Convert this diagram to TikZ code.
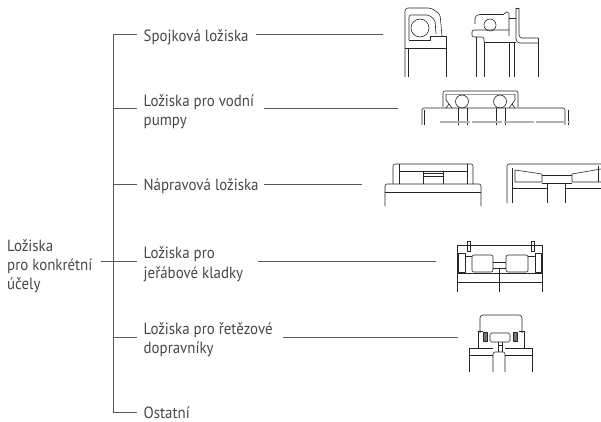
\documentclass[tikz,border=0pt]{standalone}
\usepackage{fontspec}
\setmainfont{PT Sans}[FakeStretch=0.92]
\begin{document}
\begin{tikzpicture}[x=1pt,y=-1pt,
  lbl/.style={anchor=base west,inner sep=0pt,text=black!72,font=\fontsize{16.2}{19}\selectfont},
  tree/.style={draw=black!65,line width=0.8pt},
  brg/.style={draw=black!85,line width=0.6pt,line join=round}]
\useasboundingbox (0,0) rectangle (601,422);
% ---------- labels
\node[lbl] (spoj) at (143.5,41.5) {Spojková ložiska};
\node[lbl] (vod1) at (143.5,106.5) {Ložiska pro vodní};
\node[lbl] (vod2) at (143.5,126) {pumpy};
\node[lbl] (nap)  at (143.5,190.5) {Nápravová ložiska};
\node[lbl] (jer1) at (143.5,258.3) {Ložiska pro};
\node[lbl] (jer2) at (143.5,278.3) {jeřábové kladky};
\node[lbl] (ret1) at (143.5,334) {Ložiska pro řetězové};
\node[lbl] (ret2) at (143.5,353) {dopravníky};
\node[lbl] (ost)  at (143.5,418.5) {Ostatní};
\node[lbl] (r1) at (7,251.5) {Ložiska};
\node[lbl] (r2) at (7,270.5) {pro konkrétní};
\node[lbl] (r3) at (7,289.5) {účely};
% ---------- tree
\coordinate (s1) at (113,34);
\coordinate (s2) at (113,108.7);
\coordinate (s3) at (113,184.8);
\coordinate (s4) at (113,261.7);
\coordinate (s5) at (113,337.3);
\coordinate (s6) at (113,412.5);
\coordinate (e1) at (383,34);
\coordinate (e2) at (398,108.7);
\coordinate (e3) at (362,184.8);
\coordinate (e4) at (436,261.7);
\coordinate (e5) at (458,337.3);
\draw[tree] (s1) -- (s6);
\draw[tree] (s1) -- ([xshift=-6.5pt]spoj.west |- s1);
\draw[tree] (s2) -- ([xshift=-6.5pt]vod1.west |- s2);
\draw[tree] (s3) -- ([xshift=-6.5pt]nap.west |- s3);
\draw[tree] (s4) -- ([xshift=-6.5pt]jer1.west |- s4);
\draw[tree] (s5) -- ([xshift=-6.5pt]ret1.west |- s5);
\draw[tree] (s6) -- ([xshift=-6.5pt]ost.west |- s6);
\draw[tree] ([xshift=8pt]r2.east |- s4) -- (s4);
\draw[tree] ([xshift=7pt]spoj.east |- e1) -- (e1);
\draw[tree] ([xshift=10pt]vod1.east |- e2) -- (e2);
\draw[tree] ([xshift=5pt]nap.east |- e3) -- (e3);
\draw[tree] ([xshift=15pt]jer2.east |- e4) -- (e4);
\draw[tree] ([xshift=10pt]ret1.east |- e5) -- (e5);
% ---------- bearing A (clutch, left)
\draw[brg,rounded corners=3pt] (405,77) -- (405,8) -- (431,8) -- (440,14) -- (442,36);
\draw[brg,rounded corners=2pt] (409,40) -- (409,15) -- (429,15) -- (435,20) -- (436,34);
\draw[brg] (420,28) circle[radius=9pt];
\draw[brg] (409,40) -- (430,40) -- (430,36) -- (446,36) -- (446,77);
\draw[brg] (405,48) -- (446,48);
\draw[brg] (408,48) -- (408,77);
% ---------- bearing B (clutch, right)
\draw[brg] (516,8) -- (519,8);
\draw[brg,rounded corners=4pt] (516,8) -- (516,43) -- (538,43);
\draw[brg,rounded corners=3pt] (519,8) -- (519,38) -- (538,38);
\draw[brg] (538,38) -- (538,77);
\draw[brg,rounded corners=1.5pt] (475,24) -- (475,17) -- (478,14.5) -- (505,14.5) -- (505,12) -- (509,12) -- (509,36);
\draw[brg] (509,18) -- (516,18);
\draw[brg] (490,25) circle[radius=6pt];
\draw[brg,rounded corners=2pt] (484,42) -- (484,37) -- (472,37) -- (472,30) -- (509,30);
\draw[brg] (484,42) -- (516,42);
\draw[brg] (476,37) -- (476,77);
\foreach \x in {484,509,514} \draw[brg] (\x,42) -- (\x,77);
% ---------- bearing C (water pump)
\draw[brg,rounded corners=2pt] (443,107) -- (443,91) -- (518,91) -- (518,107);
\draw[brg,draw=black!40] (446,94) -- (515,94);
\draw[brg] (462,101.5) circle[radius=6.5pt];
\draw[brg] (500,101.5) circle[radius=6.5pt];
\draw[brg] (446,94) -- (446,100) -- (449,104) -- (446,108);
\draw[brg] (449,104) -- (452,108);
\draw[brg] (515,94) -- (515,100) -- (512,104) -- (515,108);
\draw[brg] (512,104) -- (509,108);
\draw[brg,rounded corners=2pt] (422,125) -- (422,108) -- (565,108) -- (565,125);
\draw[brg] (424,110) -- (424,125);
\draw[brg] (568,110) -- (568,125);
\foreach \x in {458,467,496,505} \draw[brg] (\x,108) -- (\x,125);
\draw[black!30,line width=1.2pt,dash pattern=on 30pt off 2pt] (440,122) -- (570,122);
% ---------- bearing D (axle, left)
\draw[brg,rounded corners=2pt] (393,184) -- (393,164) -- (473,164) -- (473,184);
\draw[brg] (399,164) -- (399,184);
\draw[brg] (467,164) -- (467,184);
\draw[brg] (399,171) -- (467,171);
\draw[brg] (423,171) -- (423,184);
\draw[brg] (443,171) -- (443,184);
\draw[brg] (423,173.5) -- (443,173.5);
\draw[brg] (423,176) -- (443,176);
\draw[brg,rounded corners=2pt] (385,206) -- (385,184) -- (481,184) -- (481,206);
\draw[brg] (385,192) -- (481,192);
% ---------- bearing E (axle, right)
\draw[brg,rounded corners=2pt] (507,203) -- (507,164) -- (601,164);
\draw[brg] (512,168) -- (512,203);
\draw[brg] (515,170) -- (542,174) -- (542,182) -- (515,182) -- cycle;
\draw[brg] (601,169) -- (572,174) -- (572,182) -- (601,182);
\draw[brg] (598,166) -- (598,182);
\draw[brg] (542,175) -- (572,175);
\draw[brg] (542,183) -- (572,183);
\draw[brg] (547,183) -- (547,203);
\draw[brg] (565,183) -- (565,203);
\draw[brg] (512,188) -- (547,188);
\draw[brg] (565,188) -- (601,188);
% ---------- bearing F (crane pulley)
\draw[brg] (457,292) -- (457,245) -- (542,245) -- (542,292);
\draw[brg] (467.5,241) rectangle (470.5,251);
\draw[brg] (531.5,241) rectangle (534.5,251);
\draw[brg] (458,253) rectangle (465,272);
\draw[brg] (535,253) rectangle (541,272);
\draw[brg] (465,256) -- (472,256);
\draw[brg] (528,256) -- (535,256);
\draw[brg,rounded corners=2pt] (472,255) rectangle (493,272);
\draw[brg,rounded corners=2pt] (506,255) rectangle (528,272);
\draw[brg] (493,262) -- (506,262);
\draw[brg] (493,268) -- (506,268);
\draw[brg] (457,273) -- (542,273);
\draw[brg] (457,282) -- (542,282);
\draw[brg] (499,268) -- (499,292);
% ---------- bearing G (chain conveyor)
\draw[brg,rounded corners=3pt] (480,333) -- (480,315) -- (522,315) -- (522,333);
\draw[brg] (478,331) -- (478,348);
\draw[brg] (524,331) -- (524,348);
\draw[brg] (478,331) -- (483,331);
\draw[brg] (519,331) -- (524,331);
\draw[brg,fill=black!55] (483,332) rectangle (487,341);
\draw[brg,fill=black!55] (513,332) rectangle (517,341);
\draw[brg,rounded corners=1.5pt] (490,333) rectangle (510,342);
\draw[brg] (498,342) -- (498,352);
\draw[brg] (502,342) -- (502,352);
\draw[brg] (498,345) -- (502,345);
\draw[brg] (469,372) -- (469,348) -- (493,348);
\draw[brg] (532,372) -- (532,348) -- (505,348);
\draw[brg,rounded corners=2pt] (493,372) -- (493,352) -- (505,352) -- (505,372);
\draw[brg] (469,355) -- (493,355);
\draw[brg] (505,355) -- (532,355);
\end{tikzpicture}
\end{document}
